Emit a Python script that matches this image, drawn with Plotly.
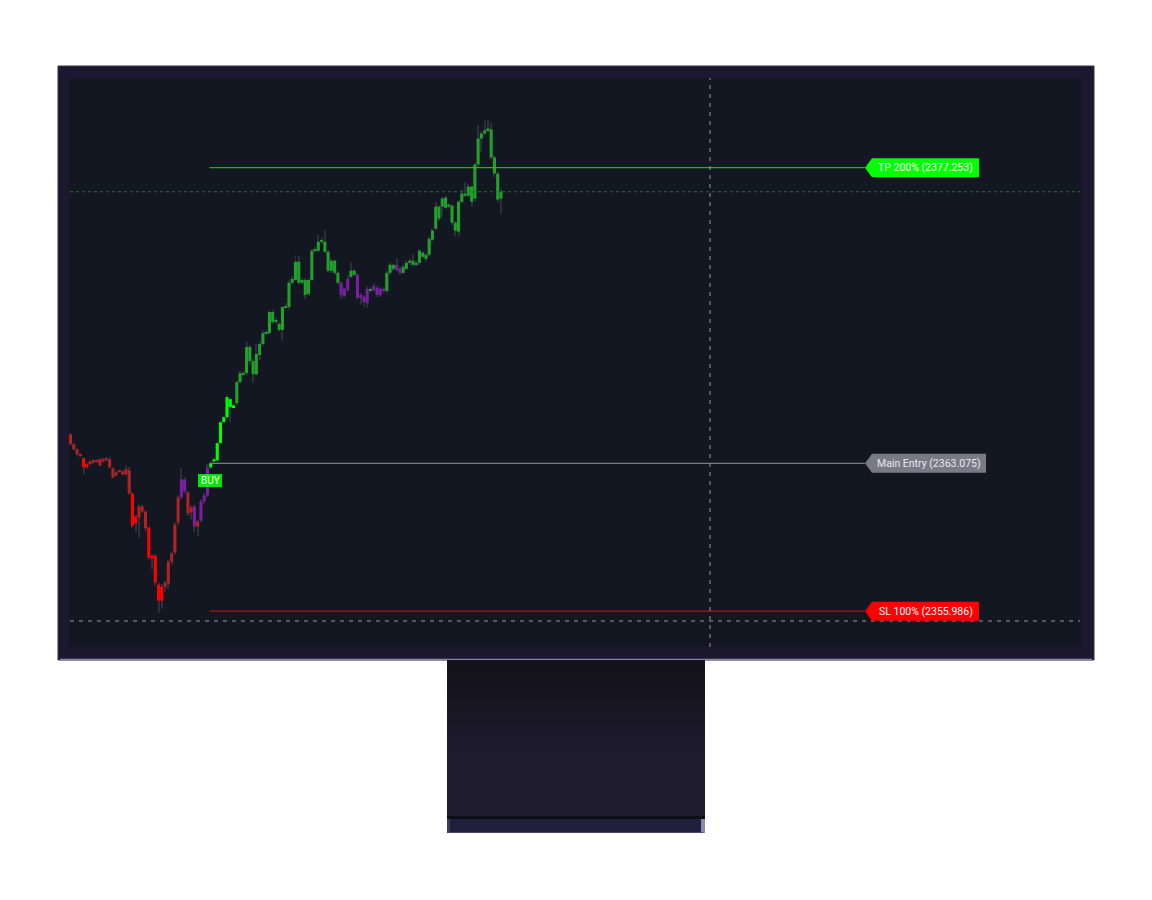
import plotly.graph_objects as go

W, H = 1152, 900

# --- candle data (one bar per slot, left to right) ---
opens = [
    2364.47, 2363.99, 2363.75, 2363.48, 2363.32, 2362.88, 2363.03, 2363.12, 2363.19, 2363.27,
    2363.17, 2363.22, 2363.27, 2362.83, 2362.50, 2362.71, 2362.69, 2362.55, 2362.74, 2361.63,
    2360.19, 2360.48, 2361.01, 2360.77, 2360.00, 2358.65, 2358.65, 2357.26, 2356.49, 2357.16,
    2357.31, 2358.36, 2358.80, 2360.24, 2361.44, 2362.31, 2361.68, 2360.72, 2361.01, 2360.05,
    2360.33, 2361.25, 2361.54, 2362.88, 2363.17, 2363.22, 2364.04, 2365.05, 2365.29, 2366.15,
    2365.77, 2365.96, 2366.97, 2367.40, 2367.40, 2368.65, 2367.98, 2367.35, 2368.27, 2368.80,
    2369.32, 2369.32, 2370.33, 2369.85, 2369.76, 2369.47, 2370.57, 2370.57, 2371.73, 2371.87,
    2372.74, 2371.73, 2371.87, 2371.20, 2371.87, 2373.27, 2373.27, 2373.70, 2373.70, 2373.22,
    2372.31, 2372.79, 2372.21, 2371.73, 2371.10, 2371.39, 2372.02, 2372.31, 2372.11, 2371.01,
    2371.06, 2370.77, 2371.44, 2371.39, 2371.49, 2371.15, 2371.44, 2371.34, 2372.21, 2372.59,
    2372.35, 2372.40, 2372.21, 2372.40, 2372.69, 2372.79, 2372.59, 2372.69, 2373.17, 2373.08,
    2373.08, 2373.80, 2374.33, 2375.38, 2375.38, 2375.82, 2375.38, 2375.43, 2374.61, 2374.18,
    2375.62, 2376.01, 2375.91, 2376.34, 2375.77, 2377.40, 2378.65, 2378.89, 2379.04, 2379.08,
    2377.74, 2376.97, 2375.77,
]
closes = [
    2363.99, 2363.75, 2363.51, 2363.44, 2362.88, 2363.03, 2363.17, 2363.22, 2363.15, 2362.98,
    2363.27, 2363.32, 2362.88, 2362.40, 2362.64, 2362.67, 2362.55, 2362.79, 2361.63, 2360.09,
    2360.53, 2361.01, 2360.77, 2359.95, 2358.56, 2358.51, 2357.35, 2356.49, 2357.16, 2357.35,
    2358.36, 2358.75, 2360.14, 2361.44, 2362.31, 2361.73, 2360.67, 2360.96, 2360.05, 2360.29,
    2361.25, 2361.54, 2362.88, 2363.08, 2363.27, 2364.04, 2365.05, 2365.29, 2366.25, 2365.77,
    2365.86, 2366.97, 2367.40, 2367.35, 2368.65, 2367.98, 2367.35, 2368.32, 2368.80, 2369.32,
    2369.37, 2370.33, 2369.85, 2369.95, 2369.47, 2370.57, 2370.62, 2371.73, 2371.92, 2372.74,
    2371.73, 2371.87, 2371.15, 2371.87, 2373.27, 2373.32, 2373.70, 2373.75, 2373.22, 2372.31,
    2372.79, 2372.21, 2371.73, 2371.15, 2371.44, 2371.92, 2372.31, 2372.11, 2371.01, 2371.15,
    2370.81, 2371.44, 2371.34, 2371.58, 2371.15, 2371.44, 2371.34, 2372.21, 2372.59, 2372.40,
    2372.59, 2372.21, 2372.50, 2372.69, 2372.79, 2372.59, 2372.69, 2373.27, 2372.98, 2372.88,
    2373.84, 2374.23, 2375.38, 2374.81, 2375.77, 2375.33, 2375.48, 2374.61, 2374.23, 2375.62,
    2376.01, 2375.91, 2376.34, 2375.62, 2377.40, 2378.65, 2378.89, 2379.04, 2379.13, 2377.74,
    2376.97, 2375.72, 2376.10,
]
highs = [
    2364.55, 2364.05, 2363.80, 2363.56, 2363.36, 2363.10, 2363.22, 2363.27, 2363.25, 2363.32,
    2363.34, 2363.38, 2363.35, 2362.90, 2362.70, 2362.76, 2362.74, 2362.95, 2362.90, 2361.70,
    2360.60, 2361.08, 2361.10, 2360.85, 2360.05, 2358.72, 2358.70, 2357.35, 2357.30, 2357.45,
    2358.45, 2358.85, 2360.25, 2361.55, 2362.85, 2362.40, 2361.75, 2361.05, 2361.10, 2360.35,
    2361.35, 2361.65, 2363.05, 2363.15, 2363.35, 2364.10, 2365.12, 2365.35, 2366.35, 2366.22,
    2365.95, 2367.05, 2367.50, 2367.50, 2368.90, 2368.75, 2368.05, 2368.80, 2368.90, 2369.45,
    2369.45, 2370.40, 2370.45, 2370.05, 2369.85, 2370.62, 2370.75, 2371.85, 2372.05, 2373.05,
    2373.00, 2371.95, 2371.95, 2371.95, 2373.35, 2373.45, 2374.05, 2373.90, 2374.25, 2373.30,
    2372.90, 2372.85, 2372.30, 2371.80, 2371.50, 2372.10, 2372.70, 2372.40, 2372.20, 2371.25,
    2371.15, 2371.55, 2371.55, 2371.70, 2371.60, 2371.50, 2371.50, 2372.30, 2372.70, 2372.65,
    2372.90, 2372.50, 2372.60, 2372.80, 2372.90, 2373.10, 2372.80, 2373.35, 2373.25, 2373.15,
    2373.95, 2374.35, 2375.60, 2375.45, 2375.85, 2375.90, 2375.55, 2375.50, 2374.70, 2375.70,
    2376.20, 2376.55, 2376.45, 2376.40, 2377.50, 2379.30, 2379.00, 2379.50, 2379.55, 2379.40,
    2377.85, 2377.05, 2376.25,
]
lows = [
    2363.90, 2363.70, 2363.44, 2363.37, 2362.57, 2362.80, 2362.98, 2363.05, 2363.10, 2362.93,
    2363.12, 2363.17, 2362.83, 2362.35, 2362.45, 2362.62, 2362.50, 2362.50, 2361.58, 2359.98,
    2359.75, 2359.52, 2360.70, 2359.80, 2358.45, 2358.00, 2357.20, 2355.90, 2356.10, 2356.90,
    2357.05, 2358.20, 2358.70, 2360.10, 2361.35, 2361.60, 2360.55, 2360.40, 2359.80, 2359.60,
    2360.25, 2361.15, 2361.45, 2362.80, 2363.10, 2363.15, 2363.98, 2364.98, 2365.20, 2365.05,
    2365.70, 2365.85, 2366.90, 2367.28, 2367.30, 2367.80, 2366.95, 2367.25, 2368.00, 2368.70,
    2369.25, 2369.25, 2369.75, 2369.78, 2369.40, 2368.95, 2370.50, 2370.45, 2371.65, 2371.80,
    2371.65, 2371.65, 2370.95, 2371.10, 2371.80, 2373.20, 2373.20, 2373.60, 2373.15, 2372.25,
    2372.20, 2372.10, 2371.65, 2370.95, 2371.00, 2371.30, 2371.95, 2372.05, 2370.90, 2370.70,
    2370.60, 2370.55, 2371.25, 2371.30, 2371.05, 2371.05, 2371.25, 2371.25, 2372.10, 2372.30,
    2372.30, 2372.10, 2372.15, 2372.35, 2372.60, 2372.50, 2372.50, 2372.60, 2372.90, 2372.75,
    2373.00, 2373.70, 2374.25, 2374.70, 2374.90, 2375.25, 2375.30, 2374.50, 2373.95, 2373.95,
    2375.55, 2375.85, 2375.85, 2375.40, 2375.65, 2377.30, 2378.00, 2378.80, 2378.95, 2377.65,
    2376.80, 2375.60, 2375.05,
]
# trend colouring per bar: D dark red, R red, P purple, L lime, G green
trend = list(
    "DDDDRRDDDDDDDDDDDDDRRDDDRRRRRDDDDDPPDDPDPPP"
    "LLLLLLLL"
    "GGGGGGGGGGGGGGGGGGGGGGGGGGGGGGGG"
    "PPPGGPPPPGPPPPGGGPP"
    "GGGGGGGGGGGGGGGGGGGGGGGGGGGGGGG"
)
assert len(trend) == len(opens) == len(closes) == len(highs) == len(lows)

entry_bar = 43
main_entry = 2363.075
take_profit = 2377.253
stop_loss = 2355.986
prev_level = 2376.095     # dotted green level
cursor_price = 2355.515   # crosshair row

TREND_COLORS = {'D': '#b22222', 'R': '#ff0000', 'P': '#7b1fa2', 'L': '#00ff00', 'G': '#22a02a'}

# --- geometry of the mock-up (pixels) ---
SCREEN = (69, 78, 1082, 647)
Y_RANGE = [2354.27, 2381.55]
X_RANGE = [-0.46, 310.18]
PX_PER_UNIT = (SCREEN[3] - SCREEN[1]) / (Y_RANGE[1] - Y_RANGE[0])


def px(x):
    return x / W


def py(y):
    return 1 - y / H


def hex_mix(a, b, t):
    a = [int(a[i:i + 2], 16) for i in (1, 3, 5)]
    b = [int(b[i:i + 2], 16) for i in (1, 3, 5)]
    return '#' + ''.join(f'{round(u + (v - u) * t):02x}' for u, v in zip(a, b))


def rect(x0, y0, x1, y1, fill, line=None, lw=0):
    return dict(type='rect', xref='paper', yref='paper', layer='below',
                x0=px(x0), x1=px(x1), y0=py(y1), y1=py(y0),
                fillcolor=fill, line=dict(color=line or fill, width=lw))


idx = list(range(len(opens)))

fig = go.Figure()

# wicks (thin bars, drawn before the bodies)
fig.add_trace(go.Bar(
    x=idx,
    base=lows,
    y=[h - l for h, l in zip(highs, lows)],
    width=0.3,
    marker=dict(color='#2c303b', line=dict(width=0)),
    hoverinfo='skip',
))

# bodies
fig.add_trace(go.Bar(
    x=idx,
    base=[min(o, c) for o, c in zip(opens, closes)],
    y=[max(abs(c - o), 0.04) for o, c in zip(opens, closes)],
    width=0.95,
    marker=dict(color=[TREND_COLORS[t] for t in trend], line=dict(width=0)),
    hoverinfo='skip',
))

shapes = []

# monitor bezel
shapes.append(rect(58, 66, 1094, 660, '#1b1830', '#34304a', 1))
shapes.append(dict(type='line', xref='paper', yref='paper', layer='below',
                   x0=px(60), x1=px(1092), y0=py(659.5), y1=py(659.5),
                   line=dict(color='#8a85a3', width=1.5)))
shapes.append(rect(SCREEN[0], SCREEN[1], SCREEN[2], SCREEN[3], '#131722'))

# stand with a rough vertical gradient
shapes.append(rect(447, 660, 705, 817, '#1d1a2c'))
top, bottom, n = 660, 817, 12
for k in range(n):
    y0 = round(top + (bottom - top) * k / n)
    y1 = round(top + (bottom - top) * (k + 1) / n) + 1
    t = min(1.0, k / (n * 0.55))
    shapes.append(rect(447, y0, 705, min(y1, bottom), hex_mix('#131119', '#1e1b2e', t)))
shapes.append(rect(447, 816, 705, 819, '#0e0c14'))
shapes.append(rect(447, 819, 705, 833, '#221f3d'))
shapes.append(rect(447, 819, 450, 833, '#3e3a5e'))
shapes.append(rect(701, 819, 705, 833, '#8d86b0'))
shapes.append(dict(type='line', xref='paper', yref='paper', layer='below',
                   x0=px(449), x1=px(703), y0=py(832.5), y1=py(832.5),
                   line=dict(color='#4a4570', width=1)))

# trade levels
for level, color in ((take_profit, '#00c800'), (main_entry, '#787b86'), (stop_loss, '#b01010')):
    shapes.append(dict(type='line', xref='x', yref='y', x0=entry_bar - 0.3, x1=243.6,
                       y0=level, y1=level, line=dict(color=color, width=1.2)))

shapes.append(dict(type='line', xref='paper', yref='y', x0=px(70), x1=px(1080),
                   y0=prev_level, y1=prev_level, line=dict(color='#1f7a24', width=1, dash='dot')))

# crosshair
shapes.append(dict(type='line', xref='paper', yref='y', x0=px(70), x1=px(1080),
                   y0=cursor_price, y1=cursor_price,
                   line=dict(color='#9598a1', width=1, dash='4px,5px')))
shapes.append(dict(type='line', xref='paper', yref='paper', x0=px(710), x1=px(710),
                   y0=py(SCREEN[3]), y1=py(SCREEN[1]),
                   line=dict(color='#9598a1', width=1, dash='4px,5px')))

# price tags
tags = [
    (take_profit, 'TP 200% (2377.253)', '#00ff00', '#ffffff', 979),
    (main_entry, 'Main Entry (2363.075)', '#787b86', '#e6e8ee', 986),
    (stop_loss, 'SL 100% (2355.986)', '#ff0000', '#ffffff', 979),
]
hh = 9.5 / PX_PER_UNIT
annotations = []
for level, label, bg, fg, right in tags:
    x_tip, x_box = px(865), px(872)
    path = (f'M {x_tip},{level} L {x_box},{level + hh} L {px(right)},{level + hh} '
            f'L {px(right)},{level - hh} L {x_box},{level - hh} Z')
    shapes.append(dict(type='path', xref='paper', yref='y', path=path,
                       fillcolor=bg, line=dict(color=bg, width=0)))
    annotations.append(dict(xref='paper', yref='y', x=(x_box + px(right)) / 2, y=level,
                            xanchor='center', yanchor='middle',
                            text=label, showarrow=False,
                            font=dict(family='Roboto', size=10.5, color=fg)))

# BUY label under the entry bar
buy_y = main_entry - (480.5 - 463.3) / PX_PER_UNIT
bh = 6.5 / PX_PER_UNIT
shapes.append(dict(type='rect', xref='paper', yref='y', x0=px(198), x1=px(222),
                   y0=buy_y - bh, y1=buy_y + bh, fillcolor='#00e600', line=dict(width=0)))
annotations.append(dict(xref='paper', yref='y', x=px(210), y=buy_y, text='BUY', showarrow=False,
                        xanchor='center', yanchor='middle',
                        font=dict(family='Roboto', size=10, color='#ffffff')))

fig.update_layout(
    width=W,
    height=H,
    margin=dict(l=0, r=0, t=0, b=0),
    paper_bgcolor='#ffffff',
    plot_bgcolor='#131722',
    showlegend=False,
    barmode='overlay',
    xaxis=dict(domain=[px(SCREEN[0]), px(SCREEN[2])], range=X_RANGE, visible=False, fixedrange=True),
    yaxis=dict(domain=[py(SCREEN[3]), py(SCREEN[1])], range=Y_RANGE, visible=False, fixedrange=True),
    shapes=shapes,
    annotations=annotations,
)

# the page body has an 8px default margin; drop it so the mock-up sits at (0, 0)
fig.write_html('out.html', config={'displayModeBar': False},
               post_script="document.body.style.margin='0';")
